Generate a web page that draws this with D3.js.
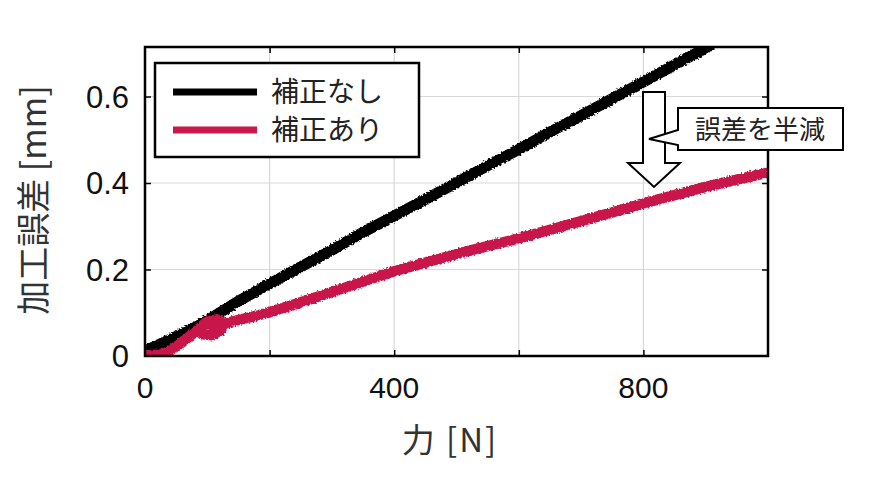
<!DOCTYPE html>
<html><head><meta charset="utf-8">
<script src="https://cdn.jsdelivr.net/npm/d3@7"></script>
<style>body{margin:0;background:#fff}svg{display:block}</style>
</head><body>
<svg id="c" width="873" height="479"></svg>
<script>
const xTickLabels = [0, 400, 800];
const xGrid = [200, 400, 600, 800];
const yTickLabels = [0, 0.2, 0.4, 0.6];
const yGrid = [0.2, 0.4, 0.6];
const seriesNames = ["補正なし", "補正あり"];
const seriesColors = ["#000000", "#c8194b"];
// force [N]
const forceUncorrected = [0, 20, 50, 80, 100, 150, 200, 250, 300, 350, 400, 450, 500, 550, 600, 650, 700, 750, 800, 850, 900, 920];
const errorUncorrected = [0.012, 0.025, 0.045, 0.066, 0.082, 0.127, 0.167, 0.206, 0.245, 0.286, 0.324, 0.362, 0.401, 0.44, 0.478, 0.518, 0.556, 0.595, 0.634, 0.673, 0.712, 0.728];
const forceCorrected = [0, 25, 40, 60, 80, 98, 115, 125, 122, 108, 92, 88, 98, 112, 128, 140, 170, 200, 250, 300, 350, 400, 450, 500, 550, 600, 650, 700, 750, 800, 850, 900, 950, 1000];
const errorCorrected = [0.002, 0.003, 0.012, 0.032, 0.055, 0.078, 0.085, 0.078, 0.06, 0.048, 0.05, 0.065, 0.075, 0.07, 0.074, 0.08, 0.09, 0.101, 0.124, 0.148, 0.172, 0.196, 0.216, 0.236, 0.254, 0.272, 0.292, 0.312, 0.332, 0.353, 0.372, 0.391, 0.408, 0.424];
const annotationText = "誤差を半減";
const xTitle = "力 [N]";
const yTitle = "加工誤差 [mm]";

const svg = d3.select("#c");
const L = 145, R = 768, T = 47, B = 356;
const x = d3.scaleLinear().domain([0, 1000]).range([L, R]);
const y = d3.scaleLinear().domain([0, 0.7145]).range([B, T]);

const defs = svg.append("defs");
defs.append("clipPath").attr("id", "clip").append("rect")
  .attr("x", L).attr("y", T).attr("width", R - L).attr("height", B - T);
const f = defs.append("filter").attr("id", "rough")
  .attr("x", "-5%").attr("y", "-5%").attr("width", "110%").attr("height", "110%");
f.append("feTurbulence").attr("type", "fractalNoise").attr("baseFrequency", 0.6)
  .attr("numOctaves", 1).attr("seed", 3).attr("result", "n");
f.append("feDisplacementMap").attr("in", "SourceGraphic").attr("in2", "n")
  .attr("scale", 4).attr("xChannelSelector", "R").attr("yChannelSelector", "G");

// grid
svg.append("g").selectAll("line").data(xGrid).join("line")
  .attr("x1", d => x(d)).attr("x2", d => x(d)).attr("y1", T).attr("y2", B)
  .attr("stroke", "#d9d9d9").attr("stroke-width", 1.2);
svg.append("g").selectAll("line").data(yGrid).join("line")
  .attr("y1", d => y(d)).attr("y2", d => y(d)).attr("x1", L).attr("x2", R)
  .attr("stroke", "#d9d9d9").attr("stroke-width", 1.2);

// axes with inward ticks
const ax = (g, axis) => { g.call(axis); g.select(".domain").remove(); g.selectAll("text").remove(); g.selectAll("line").attr("stroke", "#000").attr("stroke-width", 1.5); };
svg.append("g").attr("transform", `translate(0,${B})`).call(g => ax(g, d3.axisBottom(x).tickValues(xGrid).tickSize(-6)));
svg.append("g").attr("transform", `translate(0,${T})`).call(g => ax(g, d3.axisTop(x).tickValues(xGrid).tickSize(-6)));
svg.append("g").attr("transform", `translate(${L},0)`).call(g => ax(g, d3.axisLeft(y).tickValues(yGrid).tickSize(-6)));
svg.append("g").attr("transform", `translate(${R},0)`).call(g => ax(g, d3.axisRight(y).tickValues(yGrid).tickSize(-6)));

// lines
const line = d3.line().x(d => x(d[0])).y(d => y(d[1]));
const lg = svg.append("g").attr("clip-path", "url(#clip)");
const d1 = forceUncorrected.map((v, i) => [v, errorUncorrected[i]]);
const d2 = forceCorrected.map((v, i) => [v, errorCorrected[i]]);
lg.append("path").datum(d1).attr("d", line).attr("fill", "none")
  .attr("stroke", seriesColors[0]).attr("stroke-width", 11).attr("stroke-linejoin", "round")
  .attr("filter", "url(#rough)");
lg.append("path").datum(d2).attr("d", line).attr("fill", "none")
  .attr("stroke", seriesColors[1]).attr("stroke-width", 10.5).attr("stroke-linejoin", "round")
  .attr("filter", "url(#rough)");

// frame
svg.append("rect").attr("x", L).attr("y", T).attr("width", R - L).attr("height", B - T)
  .attr("fill", "none").attr("stroke", "#000").attr("stroke-width", 2.5);

// tick labels
const numFont = "'Liberation Sans', Arial, sans-serif";
svg.append("g").selectAll("text").data(xTickLabels).join("text")
  .attr("x", d => x(d)).attr("y", 398).attr("text-anchor", "middle")
  .attr("font-family", numFont).attr("font-size", 30).attr("fill", "#111").text(d => d);
svg.append("g").selectAll("text").data(yTickLabels).join("text")
  .attr("x", 129).attr("y", d => y(d) + 11).attr("text-anchor", "end")
  .attr("font-family", numFont).attr("font-size", 31).attr("fill", "#111").text(d => d);

const jp = "'Noto Sans CJK JP', 'Noto Sans', sans-serif";
// axis titles
svg.append("text").attr("x", 450).attr("y", 452).attr("text-anchor", "middle")
  .attr("font-family", jp).attr("font-size", 33).attr("letter-spacing", 2).attr("fill", "#333").text(xTitle);
svg.append("text").attr("transform", "translate(46,200) rotate(-90)").attr("text-anchor", "middle")
  .attr("font-family", jp).attr("font-size", 34).attr("fill", "#333").text(yTitle);

// legend
svg.append("rect").attr("x", 155).attr("y", 63).attr("width", 264).attr("height", 94)
  .attr("fill", "#fff").attr("stroke", "#000").attr("stroke-width", 2.5);
const leg = svg.append("g").selectAll("g").data(seriesNames).join("g")
  .attr("transform", (d, i) => `translate(0,${92 + i * 38})`);
leg.append("line").attr("x1", 173).attr("x2", 257).attr("y1", 0).attr("y2", 0)
  .attr("stroke", (d, i) => seriesColors[i]).attr("stroke-width", 7);
leg.append("text").attr("x", 271).attr("y", 10).attr("font-family", jp).attr("font-size", 28)
  .attr("fill", "#222").text(d => d);

// annotation arrow
const arrowPts = [[643, 92], [665, 92], [665, 163], [680, 163], [654, 187], [628, 163], [643, 163]];
svg.append("path").attr("d", d3.line()(arrowPts) + "Z").attr("fill", "#fff")
  .attr("stroke", "#000").attr("stroke-width", 2);
// callout
const calloutPts = [[678, 108], [843, 108], [843, 150], [678, 150], [678, 145], [649, 139], [678, 130]];
svg.append("path").attr("d", d3.line()(calloutPts) + "Z").attr("fill", "#fff")
  .attr("stroke", "#000").attr("stroke-width", 2);
svg.append("text").attr("x", 760).attr("y", 139).attr("text-anchor", "middle")
  .attr("font-family", jp).attr("font-size", 26).attr("fill", "#222").text(annotationText);
</script>
</body></html>
